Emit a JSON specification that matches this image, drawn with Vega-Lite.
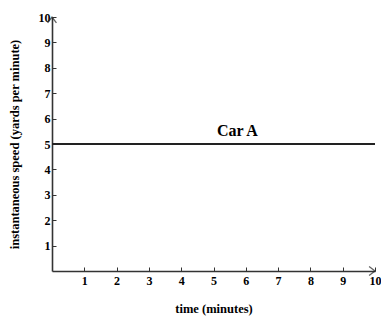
{
  "$schema": "https://vega.github.io/schema/vega-lite/v6.json",
  "autosize": "none",
  "width": 323,
  "height": 254,
  "padding": {"left": 52, "top": 17, "right": 6, "bottom": 47},
  "background": "white",
  "config": {
    "view": {"stroke": null},
    "font": "Liberation Serif",
    "axis": {
      "grid": false,
      "domainColor": "#333333",
      "domainWidth": 1.6,
      "tickColor": "#333333",
      "tickWidth": 1,
      "labelFont": "Liberation Serif",
      "labelFontWeight": "bold",
      "labelFontSize": 12,
      "labelColor": "black",
      "titleFont": "Liberation Serif",
      "titleFontWeight": "bold",
      "titleFontSize": 12.5,
      "titleColor": "black"
    }
  },
  "datasets": {
    "line": [{"t": 0, "v": 5}, {"t": 10, "v": 5}],
    "label": [{"t": 5.74, "v": 5.18, "name": "Car A"}],
    "arrows": [{"t": 10, "v": 0, "ang": 0}, {"t": 0, "v": 10, "ang": 270}]
  },
  "encoding": {
    "x": {
      "field": "t", "type": "quantitative",
      "scale": {"domain": [0, 10], "nice": false},
      "axis": {"values": [1, 2, 3, 4, 5, 6, 7, 8, 9, 10], "title": "time (minutes)", "tickSize": -4, "labelPadding": 8, "titlePadding": 16, "labelOverlap": false, "labelFlush": false, "labelBound": false}
    },
    "y": {
      "field": "v", "type": "quantitative",
      "scale": {"domain": [0, 10], "nice": false},
      "axis": {"values": [1, 2, 3, 4, 5, 6, 7, 8, 9, 10], "title": "instantaneous speed (yards per minute)", "tickSize": -4, "labelPadding": 6, "titlePadding": 17, "labelOverlap": false, "labelFlush": false, "labelBound": false}
    }
  },
  "layer": [
    {
      "data": {"name": "line"},
      "mark": {"type": "line", "color": "#222222", "strokeWidth": 1.8}
    },
    {
      "data": {"name": "label"},
      "mark": {"type": "text", "fontSize": 16, "fontWeight": "bold", "font": "Liberation Serif", "baseline": "bottom", "color": "black"},
      "encoding": {
        "text": {"field": "name"}
      }
    },
    {
      "data": {"name": "arrows"},
      "mark": {"type": "point", "shape": "M -1 -0.75 L 0 0 L -1 0.75", "filled": false, "stroke": "#222222", "strokeWidth": 1.3, "size": 140, "clip": false},
      "encoding": {
        "angle": {"field": "ang", "type": "quantitative", "scale": null}
      }
    }
  ]
}
